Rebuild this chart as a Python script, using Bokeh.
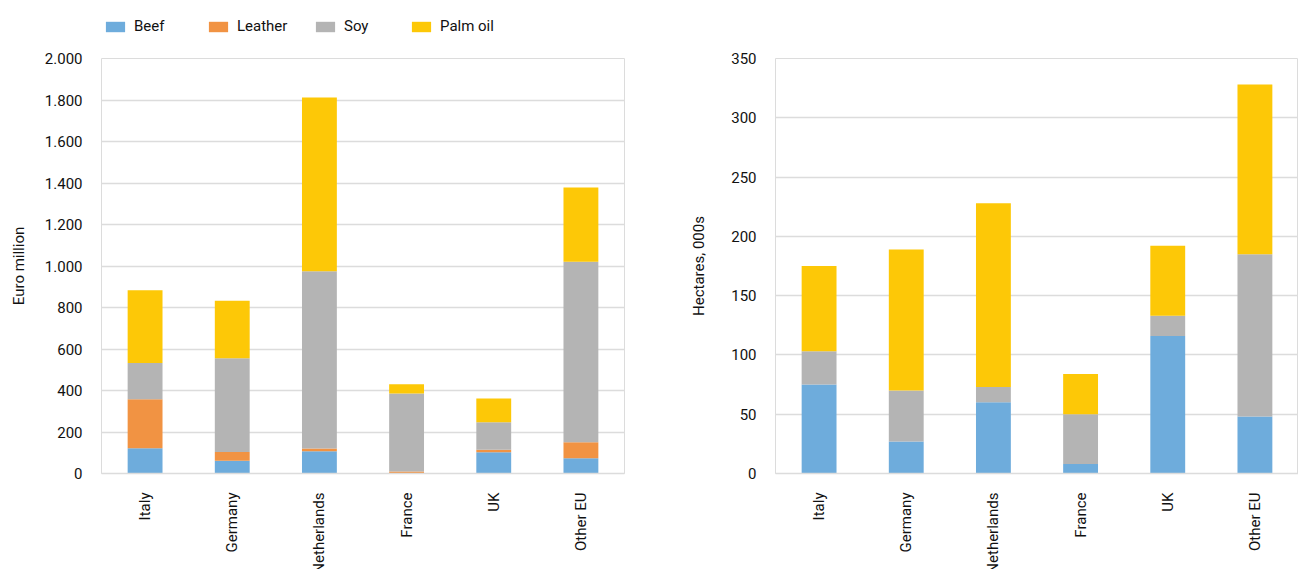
import math

from bokeh.plotting import figure
from bokeh.layouts import row, column
from bokeh.models import FixedTicker, Legend, LegendItem, FactorRange, Range1d
from bokeh.embed import file_html
from bokeh.resources import INLINE

# Importing countries and commodity groups
countries = ["Italy", "Germany", "Netherlands", "France", "UK", "Other EU"]
commodities = ["Beef", "Leather", "Soy", "Palm oil"]

# Value of imports, euro million
eur_beef = [122, 61, 107, 0, 103, 74]
eur_leather = [236, 43, 13, 10, 11, 77]
eur_soy = [175, 452, 855, 376, 133, 869]
eur_palm = [350, 276, 837, 44, 114, 358]

# Land embedded in imports, thousand hectares
ha_beef = [75, 27, 60, 8, 116, 48]
ha_soy = [28, 43, 13, 42, 17, 137]
ha_palm = [72, 119, 155, 34, 59, 143]

# Y axis ticks
eur_ticks = [0, 200, 400, 600, 800, 1000, 1200, 1400, 1600, 1800, 2000]
eur_tick_labels = ["0", "200", "400", "600", "800", "1.000", "1.200",
                   "1.400", "1.600", "1.800", "2.000"]
ha_ticks = [0, 50, 100, 150, 200, 250, 300, 350]
ha_tick_labels = ["0", "50", "100", "150", "200", "250", "300", "350"]

COLORS = {"Beef": "#6eacdc", "Leather": "#f19343", "Soy": "#b4b4b4", "Palm oil": "#fdc807"}
FONT = "Roboto"
SIZE = "15px"
TEXT = "#111111"
GRID = "#dcdcdc"

eur_source = {
    "country": countries,
    "Beef": eur_beef,
    "Leather": eur_leather,
    "Soy": eur_soy,
    "Palm oil": eur_palm,
}
ha_series = ["Beef", "Soy", "Palm oil"]
ha_source = {
    "country": countries,
    "Beef": ha_beef,
    "Soy": ha_soy,
    "Palm oil": ha_palm,
}


def make_panel(left, right, ylabel, y_end, ticks, tick_labels, label_standoff):
    p = figure(
        x_range=FactorRange(*countries),
        y_range=Range1d(0, y_end),
        frame_width=523, frame_height=415,
        min_border_left=left, min_border_right=right,
        min_border_top=18, min_border_bottom=96,
        output_backend="svg", toolbar_location=None,
    )
    p.outline_line_color = GRID
    p.xgrid.grid_line_color = None
    p.ygrid.grid_line_color = GRID
    p.ygrid.grid_line_width = 1.5

    p.yaxis.ticker = FixedTicker(ticks=ticks)
    p.yaxis.major_label_overrides = dict(zip(ticks, tick_labels))
    p.yaxis.axis_line_color = None
    p.yaxis.axis_label = ylabel
    p.yaxis.axis_label_text_font = FONT
    p.yaxis.axis_label_text_font_style = "normal"
    p.yaxis.axis_label_text_font_size = SIZE
    p.yaxis.axis_label_text_color = TEXT
    p.yaxis.axis_label_standoff = label_standoff
    p.yaxis.major_label_standoff = 19

    p.xaxis.axis_line_color = GRID
    p.xaxis.axis_line_width = 1.5
    p.xaxis.major_label_orientation = math.pi / 2
    p.xaxis.major_label_standoff = 19

    for ax in (p.xaxis, p.yaxis):
        ax.major_tick_line_color = None
        ax.minor_tick_line_color = None
        ax.major_tick_out = 0
        ax.major_tick_in = 0
        ax.major_label_text_font = FONT
        ax.major_label_text_font_size = SIZE
        ax.major_label_text_color = TEXT
    return p


# Left panel: value in euro million
left = make_panel(101, 26, "Euro million", 2000, eur_ticks, eur_tick_labels, 14)
left.vbar_stack(
    commodities, x="country", width=0.4, source=eur_source,
    color=[COLORS[c] for c in commodities], line_color=None,
)

# Right panel: land area in thousand hectares
right = make_panel(125, 0, "Hectares, 000s", 350, ha_ticks, ha_tick_labels, 20)
right.vbar_stack(
    ha_series, x="country", width=0.4, source=ha_source,
    color=[COLORS[c] for c in ha_series], line_color=None,
)

# Legend strip across the top; its own (hidden) stacks supply the swatches
key = figure(
    width=650, height=40, min_border=0,
    x_range=FactorRange(*countries), y_range=Range1d(0, 2000),
    output_backend="svg", toolbar_location=None,
)
key.axis.visible = False
key.grid.grid_line_color = None
key.outline_line_color = None
key_bars = key.vbar_stack(
    commodities, x="country", width=0.4, source=eur_source,
    color=[COLORS[c] for c in commodities], line_color=None,
)
for r in key_bars:
    r.visible = False

legend_x = [103, 206, 313, 409]
for name, renderer, lx in zip(commodities, key_bars, legend_x):
    leg = Legend(
        items=[LegendItem(label=name, renderers=[renderer])],
        location=(lx, 5),
        orientation="horizontal",
        padding=0, margin=0, spacing=0,
        glyph_width=24, glyph_height=13, label_height=13, label_standoff=7,
        label_text_font=FONT, label_text_font_size=SIZE,
        label_text_color=TEXT,
        border_line_color=None, background_fill_alpha=0,
        inactive_fill_alpha=0,
    )
    key.add_layout(leg)

layout = column(key, row(left, right, spacing=0), spacing=0)
open("out.html", "w").write(file_html(layout, INLINE))
